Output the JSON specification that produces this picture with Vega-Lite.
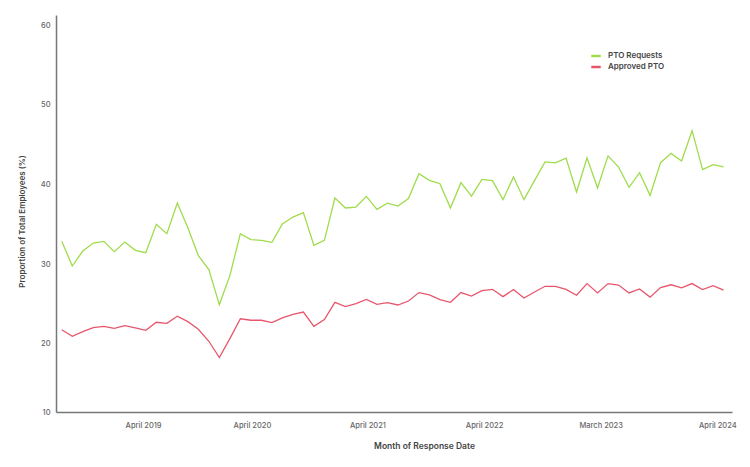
{
  "$schema": "https://vega.github.io/schema/vega-lite/v6.json",
  "width": 676,
  "height": 397,
  "autosize": {"type": "none"},
  "padding": {"left": 56, "top": 15, "right": 18, "bottom": 55},
  "background": "white",
  "config": {"view": {"stroke": null}, "font": "Inter"},
  "data": {"values": [
    {"idx": 0, "PTO Requests": 32.85, "Approved PTO": 21.73},
    {"idx": 1, "PTO Requests": 29.75, "Approved PTO": 20.92},
    {"idx": 2, "PTO Requests": 31.63, "Approved PTO": 21.5},
    {"idx": 3, "PTO Requests": 32.64, "Approved PTO": 22.01},
    {"idx": 4, "PTO Requests": 32.85, "Approved PTO": 22.17},
    {"idx": 5, "PTO Requests": 31.56, "Approved PTO": 21.92},
    {"idx": 6, "PTO Requests": 32.76, "Approved PTO": 22.26},
    {"idx": 7, "PTO Requests": 31.72, "Approved PTO": 21.96},
    {"idx": 8, "PTO Requests": 31.43, "Approved PTO": 21.67},
    {"idx": 9, "PTO Requests": 34.99, "Approved PTO": 22.68},
    {"idx": 10, "PTO Requests": 33.82, "Approved PTO": 22.55},
    {"idx": 11, "PTO Requests": 37.66, "Approved PTO": 23.43},
    {"idx": 12, "PTO Requests": 34.57, "Approved PTO": 22.76},
    {"idx": 13, "PTO Requests": 31.06, "Approved PTO": 21.8},
    {"idx": 14, "PTO Requests": 29.3, "Approved PTO": 20.29},
    {"idx": 15, "PTO Requests": 24.9, "Approved PTO": 18.24},
    {"idx": 16, "PTO Requests": 28.54, "Approved PTO": 20.62},
    {"idx": 17, "PTO Requests": 33.82, "Approved PTO": 23.12},
    {"idx": 18, "PTO Requests": 33.07, "Approved PTO": 22.93},
    {"idx": 19, "PTO Requests": 32.98, "Approved PTO": 22.93},
    {"idx": 20, "PTO Requests": 32.73, "Approved PTO": 22.64},
    {"idx": 21, "PTO Requests": 35.03, "Approved PTO": 23.22},
    {"idx": 22, "PTO Requests": 35.9, "Approved PTO": 23.68},
    {"idx": 23, "PTO Requests": 36.46, "Approved PTO": 23.97},
    {"idx": 24, "PTO Requests": 32.35, "Approved PTO": 22.17},
    {"idx": 25, "PTO Requests": 32.98, "Approved PTO": 23.02},
    {"idx": 26, "PTO Requests": 38.29, "Approved PTO": 25.19},
    {"idx": 27, "PTO Requests": 37.04, "Approved PTO": 24.66},
    {"idx": 28, "PTO Requests": 37.16, "Approved PTO": 25.03},
    {"idx": 29, "PTO Requests": 38.5, "Approved PTO": 25.54},
    {"idx": 30, "PTO Requests": 36.87, "Approved PTO": 24.94},
    {"idx": 31, "PTO Requests": 37.66, "Approved PTO": 25.15},
    {"idx": 32, "PTO Requests": 37.29, "Approved PTO": 24.85},
    {"idx": 33, "PTO Requests": 38.22, "Approved PTO": 25.35},
    {"idx": 34, "PTO Requests": 41.36, "Approved PTO": 26.41},
    {"idx": 35, "PTO Requests": 40.52, "Approved PTO": 26.11},
    {"idx": 36, "PTO Requests": 40.1, "Approved PTO": 25.53},
    {"idx": 37, "PTO Requests": 37.04, "Approved PTO": 25.19},
    {"idx": 38, "PTO Requests": 40.23, "Approved PTO": 26.41},
    {"idx": 39, "PTO Requests": 38.54, "Approved PTO": 25.98},
    {"idx": 40, "PTO Requests": 40.64, "Approved PTO": 26.66},
    {"idx": 41, "PTO Requests": 40.48, "Approved PTO": 26.82},
    {"idx": 42, "PTO Requests": 38.09, "Approved PTO": 25.9},
    {"idx": 43, "PTO Requests": 40.93, "Approved PTO": 26.8},
    {"idx": 44, "PTO Requests": 38.09, "Approved PTO": 25.73},
    {"idx": 45, "PTO Requests": 40.48, "Approved PTO": 26.48},
    {"idx": 46, "PTO Requests": 42.84, "Approved PTO": 27.2},
    {"idx": 47, "PTO Requests": 42.71, "Approved PTO": 27.2},
    {"idx": 48, "PTO Requests": 43.32, "Approved PTO": 26.82},
    {"idx": 49, "PTO Requests": 39.05, "Approved PTO": 26.07},
    {"idx": 50, "PTO Requests": 43.34, "Approved PTO": 27.54},
    {"idx": 51, "PTO Requests": 39.55, "Approved PTO": 26.36},
    {"idx": 52, "PTO Requests": 43.59, "Approved PTO": 27.54},
    {"idx": 53, "PTO Requests": 42.19, "Approved PTO": 27.36},
    {"idx": 54, "PTO Requests": 39.64, "Approved PTO": 26.36},
    {"idx": 55, "PTO Requests": 41.48, "Approved PTO": 26.86},
    {"idx": 56, "PTO Requests": 38.63, "Approved PTO": 25.84},
    {"idx": 57, "PTO Requests": 42.74, "Approved PTO": 27.04},
    {"idx": 58, "PTO Requests": 43.91, "Approved PTO": 27.39},
    {"idx": 59, "PTO Requests": 42.94, "Approved PTO": 27.01},
    {"idx": 60, "PTO Requests": 46.76, "Approved PTO": 27.54},
    {"idx": 61, "PTO Requests": 41.86, "Approved PTO": 26.78},
    {"idx": 62, "PTO Requests": 42.49, "Approved PTO": 27.29},
    {"idx": 63, "PTO Requests": 42.21, "Approved PTO": 26.72}
  ]},
  "transform": [{"fold": ["PTO Requests", "Approved PTO"], "as": ["series", "value"]}],
  "mark": {"type": "line", "strokeWidth": 1.3},
  "encoding": {
    "x": {
      "field": "idx",
      "type": "quantitative",
      "scale": {"domain": [-0.55, 63.8], "nice": false, "zero": false},
      "axis": {
        "values": [7.74, 18.1, 29.1, 40.2, 51.3, 62.4],
        "labelExpr": "datum.value < 10 ? 'April 2019' : datum.value < 20 ? 'April 2020' : datum.value < 30 ? 'April 2021' : datum.value < 45 ? 'April 2022' : datum.value < 55 ? 'March  2023' : 'April 2024'",
        "ticks": false,
        "grid": false,
        "domainColor": "#777777",
        "domainWidth": 1.5,
        "labelFontSize": 7.5,
        "labelFontWeight": 500,
        "labelColor": "#666666",
        "labelPadding": 9,
        "labelOverlap": false,
        "labelFlush": false,
        "labelBound": false,
        "title": "Month of Response Date",
        "titleFontSize": 8.5,
        "titleFontWeight": 600,
        "titleColor": "#444444",
        "titleX": 368,
        "titleY": 33,
        "titleAlign": "center",
        "titleBaseline": "middle"
      }
    },
    "y": {
      "field": "value",
      "type": "quantitative",
      "scale": {"domain": [11.4, 61.3], "nice": false, "zero": false},
      "axis": {
        "values": [11.4, 20, 30, 40, 50, 60],
        "labelExpr": "datum.value < 15 ? '10' : datum.label",
        "ticks": false,
        "grid": false,
        "domainColor": "#777777",
        "domainWidth": 1.5,
        "labelFontSize": 7.5,
        "labelFontWeight": 500,
        "labelColor": "#666666",
        "labelPadding": 6,
        "labelOverlap": false,
        "labelFlush": false,
        "labelBound": false,
        "title": "Proportion of Total Employees (%)",
        "titleFontSize": 8,
        "titleFontWeight": 600,
        "titleColor": "#444444",
        "titleX": -34,
        "titleY": 206,
        "titleAlign": "center",
        "titleBaseline": "middle",
        "titleAngle": -90
      }
    },
    "color": {
      "field": "series",
      "type": "nominal",
      "scale": {"domain": ["PTO Requests", "Approved PTO"], "range": ["#9fdc4a", "#e8566b"]},
      "legend": {
        "title": null,
        "orient": "none",
        "legendX": 534,
        "legendY": 35,
        "symbolType": "stroke",
        "symbolStrokeWidth": 2.5,
        "symbolSize": 90,
        "labelFontSize": 8,
        "labelFontWeight": 600,
        "labelColor": "#444444",
        "labelOffset": 6,
        "rowPadding": -1
      }
    }
  }
}
